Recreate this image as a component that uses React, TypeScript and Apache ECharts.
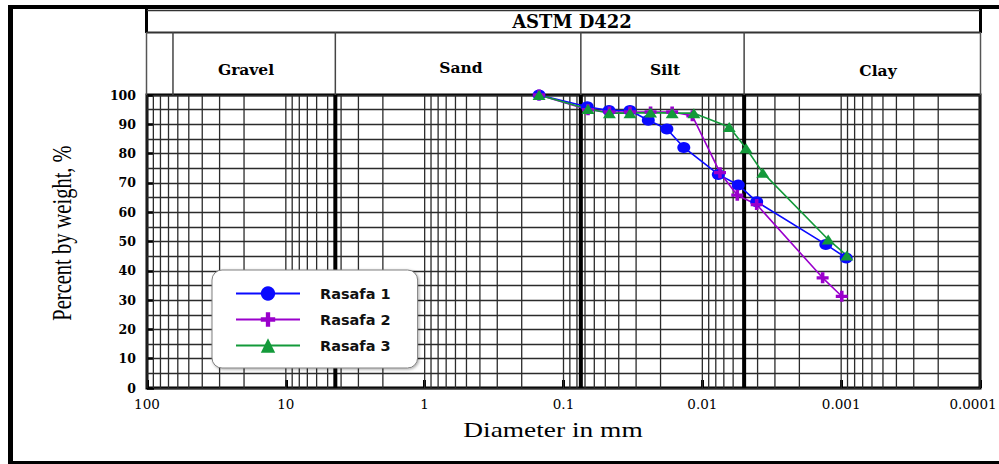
import React, { useEffect, useRef } from 'react';
import * as echarts from 'echarts';

// ---------- data ----------
const SERIES_NAMES = ['Rasafa 1', 'Rasafa 2', 'Rasafa 3'];

const X_TICK_LABELS = ['100', '10', '1', '0.1', '0.01', '0.001', '0.0001'];

// diameters (mm) and percent finer
const RASAFA1_D = [0.15, 0.0674, 0.047, 0.0332, 0.0245, 0.018, 0.0136, 0.00767, 0.00551, 0.00406, 0.00129, 0.00092];
const RASAFA1_P = [100, 96.0, 94.7, 94.7, 91.4, 88.4, 82.1, 72.9, 69.3, 63.6, 49.0, 44.4];

const RASAFA2_D = [0.15, 0.0666, 0.0467, 0.0332, 0.0236, 0.0165, 0.0118, 0.00746, 0.0056, 0.00406, 0.00136, 0.00099];
const RASAFA2_P = [100, 95.0, 94.2, 94.2, 94.2, 94.2, 92.9, 73.5, 65.8, 62.6, 37.6, 31.3];

const RASAFA3_D = [0.15, 0.0666, 0.0467, 0.0332, 0.0236, 0.0165, 0.0115, 0.0064, 0.00484, 0.00367, 0.00124, 0.00091];
const RASAFA3_P = [100, 95.2, 93.8, 93.8, 94.0, 93.8, 93.8, 89.1, 81.8, 73.5, 50.7, 45.2];

// log-paper grid
const DECADES = [0.0001, 0.001, 0.01, 0.1, 1, 10];
const MULTIPLIERS = [1, 2, 3, 4, 5, 6, 7, 8, 9];
// soil class boundaries (mm)
const BOUNDARIES = [4.4, 0.075, 0.005];
const HEADER_SPLITS = [65, 4.4, 0.075, 0.005];
const ZONE_NAMES = ['Gravel', 'Sand', 'Silt', 'Clay'];
const TITLE = 'ASTM D422';
const X_TITLE = 'Diameter in mm';
const Y_TITLE = 'Percent by weight, %';

const COLORS = ['#0a0aff', '#9a00cc', '#139a3a'];
const PLUS_PATH = 'path://M3.5,0H6.5V3.5H10V6.5H6.5V10H3.5V6.5H0V3.5H3.5Z';

const zip = (d: number[], p: number[]) => d.map((v, i) => [v, p[i]]);

export default function App() {
  const ref = useRef<HTMLDivElement>(null);

  useEffect(() => {
    if (!ref.current) return;
    const chart = echarts.init(ref.current, null, { renderer: 'svg' });

    const gridValues: number[] = [];
    DECADES.forEach((d) => MULTIPLIERS.forEach((m) => gridValues.push(d * m)));
    gridValues.push(100);

    const lineRender = (color: string, width: number) => (params: any, api: any) => {
      const v = api.value(0);
      const a = api.coord([v, 100]);
      const b = api.coord([v, 0]);
      return {
        type: 'line',
        shape: { x1: a[0], y1: a[1], x2: b[0], y2: b[1] },
        style: { stroke: color, lineWidth: width },
      };
    };

    const lastLabel = X_TICK_LABELS[X_TICK_LABELS.length - 1];
    const labelFor = (v: number) => {
      const hit = X_TICK_LABELS.find((s) => Math.abs(Math.log10(Number(s)) - Math.log10(v)) < 1e-6);
      if (!hit) return '';
      return hit === lastLabel ? `{edge|${hit}}` : hit;
    };

    const common = {
      type: 'line',
      lineStyle: { width: 1.6 },
      z: 5,
    };

    chart.setOption({
      animation: false,
      backgroundColor: '#fff',
      grid: {
        left: 147,
        right: 19,
        top: 95,
        bottom: 76,
        containLabel: false,
        outerBoundsMode: 'none',
        show: true,
        borderColor: '#000',
        borderWidth: 3,
      },
      xAxis: {
        type: 'log',
        logBase: 10,
        min: 0.0001,
        max: 100,
        inverse: true,
        axisLine: { show: false },
        axisTick: { show: true, inside: true, length: 8, lineStyle: { color: '#000', width: 3 } },
        splitLine: { show: false },
        axisLabel: {
          formatter: (v: number) => labelFor(v),
          fontFamily: 'DejaVu Serif',
          fontSize: 13.5,
          color: '#000',
          margin: 9,
          hideOverlap: false,
          rich: {
            edge: {
              fontFamily: 'DejaVu Serif',
              fontSize: 13.5,
              color: '#000',
              padding: [0, 14, 0, 0],
            },
          },
        },
      },
      yAxis: {
        type: 'value',
        min: 0,
        max: 100,
        interval: 10,
        axisLine: { show: false },
        axisTick: { show: true, inside: true, length: 7, lineStyle: { color: '#000', width: 2.5 } },
        splitLine: { show: true, lineStyle: { color: '#2b2b2b', width: 1.3 } },
        minorTick: { show: false, splitNumber: 2 },
        minorSplitLine: { show: true, lineStyle: { color: '#2b2b2b', width: 1.3 } },
        axisLabel: {
          fontFamily: 'DejaVu Serif',
          fontWeight: 'bold',
          fontSize: 12.5,
          color: '#000',
          margin: 11,
        },
      },
      legend: {
        data: SERIES_NAMES,
        orient: 'vertical',
        left: 212,
        top: 270,
        padding: [16, 27, 15, 23],
        itemWidth: 64,
        itemHeight: 18,
        itemGap: 11,
        backgroundColor: '#fff',
        borderColor: '#808080',
        borderWidth: 1,
        borderRadius: 10,
        shadowColor: 'rgba(0,0,0,0.35)',
        shadowBlur: 3,
        shadowOffsetX: 1,
        shadowOffsetY: 1,
        textStyle: {
          fontFamily: 'DejaVu Sans',
          fontWeight: 'bold',
          fontSize: 14.5,
          color: '#111',
          padding: [3, 0, 3, 15],
        },
      },
      series: [
        {
          type: 'custom',
          name: 'grid',
          silent: true,
          clip: false,
          z: 1,
          data: gridValues.map((v) => [v, 0]),
          encode: { x: 0, y: 1 },
          renderItem: lineRender('#2b2b2b', 1.3),
        },
        {
          type: 'custom',
          name: 'boundaries',
          silent: true,
          clip: false,
          z: 2,
          data: BOUNDARIES.map((v) => [v, 0]),
          encode: { x: 0, y: 1 },
          renderItem: lineRender('#000', 4),
        },
        {
          ...common,
          name: SERIES_NAMES[0],
          data: zip(RASAFA1_D, RASAFA1_P),
          symbol: 'circle',
          symbolSize: [13, 11],
          itemStyle: { color: COLORS[0] },
          lineStyle: { width: 1.6, color: COLORS[0] },
        },
        {
          ...common,
          name: SERIES_NAMES[1],
          data: zip(RASAFA2_D, RASAFA2_P),
          symbol: PLUS_PATH,
          symbolSize: [12, 11],
          itemStyle: { color: COLORS[1] },
          lineStyle: { width: 1.6, color: COLORS[1] },
        },
        {
          ...common,
          name: SERIES_NAMES[2],
          data: zip(RASAFA3_D, RASAFA3_P),
          symbol: 'triangle',
          symbolSize: [13, 10],
          itemStyle: { color: COLORS[2] },
          lineStyle: { width: 1.6, color: COLORS[2] },
        },
      ],
    });

    // header built from axis positions
    const px = (v: number) => chart.convertToPixel({ xAxisIndex: 0 }, v) as number;
    const leftX = px(100);
    const rightX = px(0.0001);
    const splitsX = HEADER_SPLITS.map(px);
    const zoneX = [246, 461, 665, 878];

    const L = (x1: number, y1: number, x2: number, y2: number, w: number, c = '#000') => ({
      type: 'line',
      silent: true,
      shape: { x1, y1, x2, y2 },
      style: { stroke: c, lineWidth: w },
      z: 10,
    });

    const graphic: any[] = [
      // outer frame
      L(8, 7, 999, 7, 4),
      L(10.5, 5, 10.5, 464, 5),
      L(8, 462.5, 999, 462.5, 3),
      // title box
      L(leftX - 0.5, 9, leftX - 0.5, 33, 3),
      L(rightX + 0.5, 9, rightX + 0.5, 33, 3),
      L(leftX, 10.5, rightX, 10.5, 1.5, '#333'),
      L(leftX, 32.5, rightX, 32.5, 2, '#333'),
      // row 2 verticals
      L(leftX - 0.5, 32, leftX - 0.5, 95, 1.5, '#555'),
      L(rightX + 0.5, 32, rightX + 0.5, 95, 1.5, '#555'),
      ...splitsX.map((x) => L(x, 32, x, 95, 1.5, '#444')),
      {
        type: 'text',
        x: 572,
        y: 21.5,
        z: 11,
        style: {
          text: TITLE,
          fill: '#000',
          font: 'bold 18px "DejaVu Serif"',
          textAlign: 'center',
          textVerticalAlign: 'middle',
        },
      },
      ...ZONE_NAMES.map((n, i) => ({
        type: 'text',
        x: zoneX[i],
        y: [69, 67, 69, 70][i],
        z: 11,
        style: {
          text: n,
          fill: '#000',
          font: 'bold 15.5px "DejaVu Serif"',
          textAlign: 'center',
          textVerticalAlign: 'middle',
        },
      })),
      {
        type: 'text',
        x: 553,
        y: 430,
        scaleX: 1.37,
        z: 11,
        style: {
          text: X_TITLE,
          fill: '#000',
          font: '20px "Liberation Serif"',
          textAlign: 'center',
          textVerticalAlign: 'middle',
        },
      },
      {
        type: 'text',
        x: 61,
        y: 233,
        rotation: Math.PI / 2,
        scaleY: 1.35,
        z: 11,
        style: {
          text: Y_TITLE,
          fill: '#000',
          font: '20.5px "Liberation Serif"',
          textAlign: 'center',
          textVerticalAlign: 'middle',
        },
      },
    ];
    chart.setOption({ graphic });

    return () => chart.dispose();
  }, []);

  return (
    <div
      ref={ref}
      style={{ position: 'fixed', left: 0, top: 0, width: 999, height: 464, background: '#fff' }}
    />
  );
}
